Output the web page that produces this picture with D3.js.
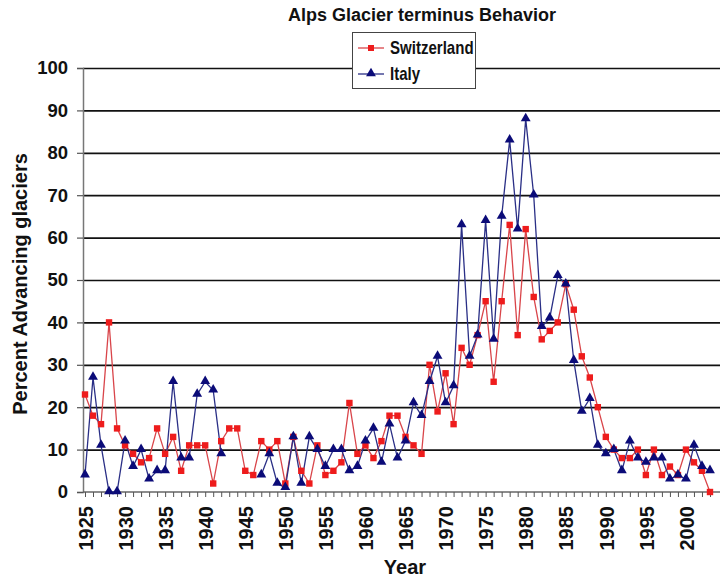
<!DOCTYPE html>
<html><head><meta charset="utf-8">
<script src="https://cdn.jsdelivr.net/npm/d3@7/dist/d3.min.js"></script>
<style>body{margin:0;background:#fff}text{font-family:"Liberation Sans",Arial,sans-serif;font-weight:bold}</style>
</head><body><svg id="c" width="723" height="580"></svg>
<script>
const years = d3.range(1925, 2004);
const xTickLabels = [1925,1930,1935,1940,1945,1950,1955,1960,1965,1970,1975,1980,1985,1990,1995,2000];
const yTicks = [0,10,20,30,40,50,60,70,80,90,100];
const switzerland = [
  23,18,16,40,15,11,9,7,8,15,
  9,13,5,11,11,11,2,12,15,15,
  5,4,12,10,12,2,13,5,2,11,
  4,5,7,21,9,11,8,12,18,18,
  13,11,9,30,19,28,16,34,30,37,
  45,26,45,63,37,62,46,36,38,40,
  49,43,32,27,20,13,10,8,8,10,
  4,10,4,6,4,10,7,5,0];
const italy = [
  4,27,11,0,0,12,6,10,3,5,
  5,26,8,8,23,26,24,9,null,null,
  null,null,4,9,2,1,13,2,13,10,
  6,10,10,5,6,12,15,7,16,8,
  12,21,18,26,32,21,25,63,32,37,
  64,36,65,83,62,88,70,39,41,51,
  49,31,19,22,11,9,10,5,12,8,
  7,8,8,3,4,3,11,6,5];
const seriesNames = ["Switzerland","Italy"];

const svg = d3.select("#c");
const L = 83, R = 720, T = 68, B = 492;
const x = d3.scaleLinear().domain([1925, 2004]).range([85, 718]);
const y = d3.scaleLinear().domain([0, 100]).range([B, T]);
const FONT = "'Liberation Sans',Arial,sans-serif";

// gridlines
svg.append("g").attr("transform", `translate(${L},0)`)
  .call(d3.axisLeft(y).tickValues(yTicks.slice(1)).tickSize(-(R - L)).tickFormat(""))
  .call(g => g.select(".domain").remove())
  .call(g => g.selectAll("line").attr("stroke", "#111").attr("stroke-width", 1.7));

// y axis
const ya = svg.append("g").attr("transform", `translate(${L},0)`)
  .call(d3.axisLeft(y).tickValues(yTicks).tickSize(6).tickPadding(9));
ya.select(".domain").attr("stroke", "#777").attr("stroke-width", 1.5);
ya.selectAll("line").attr("stroke", "#555").attr("stroke-width", 1.2);
ya.selectAll("text").attr("font-size", 18.5).attr("fill", "#111")
  .attr("font-family", FONT).attr("font-weight", "bold");

// x axis
const xa = svg.append("g").attr("transform", `translate(0,${B})`)
  .call(d3.axisBottom(x).tickValues(years).tickSize(5)
    .tickFormat(d => xTickLabels.includes(d) ? String(d) : ""));
xa.select(".domain").attr("d", `M${L},0H${R}`).attr("stroke", "#666").attr("stroke-width", 1.5);
xa.selectAll("line").attr("stroke", "#555");
xa.selectAll("text").attr("font-size", 20).attr("fill", "#111")
  .attr("font-family", FONT).attr("font-weight", "bold")
  .attr("transform", "rotate(-90)").attr("text-anchor", "end")
  .attr("x", -14).attr("y", 0).attr("dy", "0.36em");

// lines
const line = d3.line().defined(d => d[1] != null).x(d => x(d[0])).y(d => y(d[1]));
const swData = years.map((yr, i) => [yr, switzerland[i]]);
const itData = years.map((yr, i) => [yr, italy[i]]);

svg.append("path").datum(swData).attr("d", line).attr("fill", "none")
  .attr("stroke", "#d9454a").attr("stroke-width", 1.3);
svg.append("path").datum(itData).attr("d", line).attr("fill", "none")
  .attr("stroke", "#2a2f86").attr("stroke-width", 1.3);

const tri = d3.symbol().type(d3.symbolTriangle).size(42);
svg.append("g").selectAll("rect").data(swData.filter(d => d[1] != null)).join("rect")
  .attr("x", d => x(d[0]) - 3.2).attr("y", d => y(d[1]) - 3.2)
  .attr("width", 6.4).attr("height", 6.4).attr("fill", "#ee1c1c");
svg.append("g").selectAll("path").data(itData.filter(d => d[1] != null)).join("path")
  .attr("d", tri).attr("transform", d => `translate(${x(d[0])},${y(d[1]) - 0.5})`)
  .attr("fill", "#0b0b78");

// title
svg.append("text").attr("x", 422).attr("y", 21).attr("text-anchor", "middle")
  .attr("font-size", 18).attr("fill", "#111").text("Alps Glacier terminus Behavior");

// axis titles
svg.append("text").attr("transform", "translate(27,284) rotate(-90)").attr("text-anchor", "middle")
  .attr("font-size", 20).attr("fill", "#111").text("Percent Advancing glaciers");
svg.append("text").attr("x", 405).attr("y", 574).attr("text-anchor", "middle")
  .attr("font-size", 20).attr("fill", "#111").text("Year");

// legend
const lg = svg.append("g");
lg.append("rect").attr("x", 352.5).attr("y", 32.5).attr("width", 123).attr("height", 56)
  .attr("fill", "#fff").attr("stroke", "#444").attr("stroke-width", 1);
const items = [
  {name: seriesNames[0], color: "#d9454a", mark: "#ee1c1c", sq: true, yy: 48},
  {name: seriesNames[1], color: "#2a2f86", mark: "#0b0b78", sq: false, yy: 74}
];
items.forEach(it => {
  lg.append("line").attr("x1", 358).attr("x2", 384).attr("y1", it.yy).attr("y2", it.yy)
    .attr("stroke", it.color).attr("stroke-width", 1.3);
  if (it.sq) lg.append("rect").attr("x", 368).attr("y", it.yy - 3).attr("width", 6).attr("height", 6).attr("fill", it.mark);
  else lg.append("path").attr("d", tri).attr("transform", `translate(371,${it.yy - 0.5})`).attr("fill", it.mark);
  lg.append("text").attr("transform", `translate(390,${it.yy}) scale(0.86,1)`).attr("dy", "0.36em")
    .attr("font-size", 17.5).attr("fill", "#111").text(it.name);
});
</script></body></html>
